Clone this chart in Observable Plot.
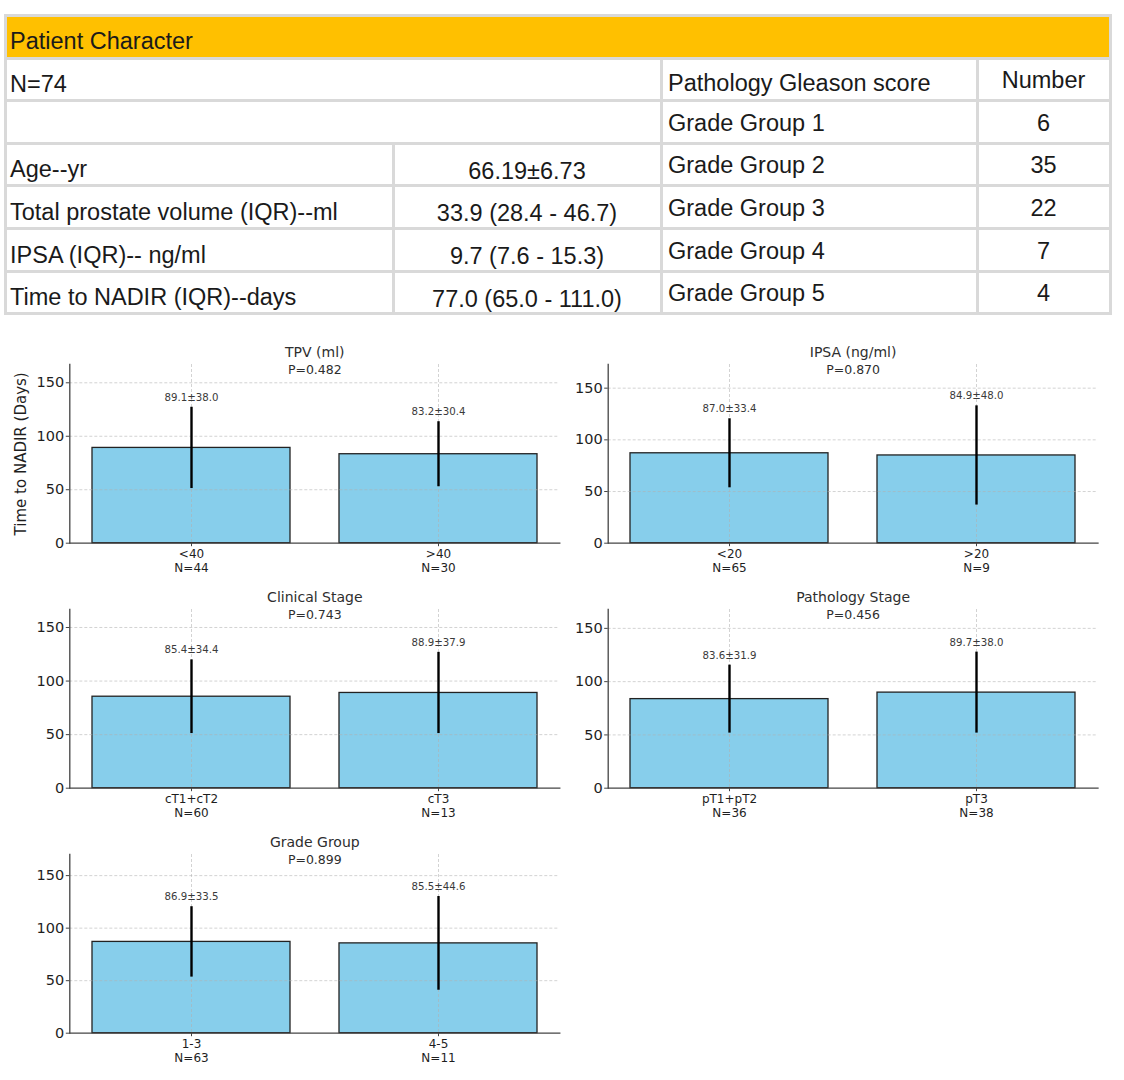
<!DOCTYPE html>
<html>
<head>
<meta charset="utf-8">
<script src="https://cdn.jsdelivr.net/npm/d3@7"></script>
<script src="https://cdn.jsdelivr.net/npm/@observablehq/plot@0.6"></script>
<style>
  html, body { margin: 0; padding: 0; background: #fff; }
  body { width: 1124px; height: 1080px; position: relative; overflow: hidden; font-family: "Liberation Sans", Arial, sans-serif; }
  #tbl { position: absolute; left: 4px; top: 14px; display: grid;
         grid-template-columns: 384.5px 265px 313px 130px;
         grid-template-rows: repeat(7, 39.6px);
         gap: 3px; padding: 3px; background: #d9d9d9; }
  .c { background: #fff; display: flex; align-items: center; font-size: 23.5px; color: #1a1a1a;
       line-height: 1; white-space: nowrap; overflow: hidden; }
  .c span { position: relative; }
  .hdr { background: #FFC000; grid-column: 1 / span 4; padding-left: 3px; }
  .hdr span { top: 5px; }
  .span2 { grid-column: 1 / span 2; }
  .lab { padding-left: 3px; }
  .lab span { top: 5.5px; }
  .val { justify-content: center; }
  .val span { top: 7px; }
  .gl { padding-left: 5.5px; }
  .gl span { top: 1.5px; }
  .gl.first span { top: 4px; }
  .num { justify-content: center; }
  .num span { top: 1.5px; }
  .panel { position: absolute; }
</style>
</head>
<body>
<div id="tbl"></div>
<script>
// ---------- table data ----------
const tableTitle = "Patient Character";
const cohortN = "N=74";
const charLabels = ["Age--yr", "Total prostate volume (IQR)--ml", "IPSA (IQR)-- ng/ml", "Time to NADIR (IQR)--days"];
const charValues = ["66.19±6.73", "33.9 (28.4 - 46.7)", "9.7 (7.6 - 15.3)", "77.0 (65.0 - 111.0)"];
const gleasonHeader = ["Pathology Gleason score", "Number"];
const gradeGroups = ["Grade Group 1", "Grade Group 2", "Grade Group 3", "Grade Group 4", "Grade Group 5"];
const gradeCounts = [6, 35, 22, 7, 4];

// ---------- chart data ----------
const panelTitles = ["TPV (ml)", "IPSA (ng/ml)", "Clinical Stage", "Pathology Stage", "Grade Group"];
const pValues = ["0.482", "0.870", "0.743", "0.456", "0.899"];
const groupLabels = [["<40", ">40"], ["<20", ">20"], ["cT1+cT2", "cT3"], ["pT1+pT2", "pT3"], ["1-3", "4-5"]];
const groupN = [[44, 30], [65, 9], [60, 13], [36, 38], [63, 11]];
const groupMean = [[89.1, 83.2], [87.0, 84.9], [85.4, 88.9], [83.6, 89.7], [86.9, 85.5]];
const groupSD = [[38.0, 30.4], [33.4, 48.0], [34.4, 37.9], [31.9, 38.0], [33.5, 44.6]];
const yTicks = [0, 50, 100, 150];
const yLabel = "Time to NADIR (Days)";

// ---------- build table ----------
const tbl = document.getElementById("tbl");
function cell(cls, text) {
  const d = document.createElement("div");
  d.className = "c " + cls;
  const s = document.createElement("span");
  s.textContent = text;
  d.appendChild(s);
  tbl.appendChild(d);
}
cell("hdr", tableTitle);
cell("span2 lab", cohortN);
cell("gl first", gleasonHeader[0]);
cell("num", gleasonHeader[1]);
cell("span2 lab", "");
cell("gl", gradeGroups[0]);
cell("num", String(gradeCounts[0]));
for (let i = 0; i < charLabels.length; i++) {
  cell("lab", charLabels[i]);
  cell("val", charValues[i]);
  cell("gl", gradeGroups[i + 1]);
  cell("num", String(gradeCounts[i + 1]));
}

// ---------- build charts ----------
const positions = [
  {left: 0, top: 335, side: "L"},
  {left: 562, top: 335, side: "R"},
  {left: 0, top: 580, side: "L"},
  {left: 562, top: 580, side: "R"},
  {left: 0, top: 825, side: "L"}
];

function panel(i) {
  const pos = positions[i];
  const data = groupLabels[i].map((g, j) => ({g, n: groupN[i][j], mean: groupMean[i][j], sd: groupSD[i][j]}));
  const nOf = new Map(data.map(d => [d.g, d.n]));
  const ymax = d3.max(data, d => d.mean + d.sd) + 40;
  const isL = pos.side === "L";
  const gridStyle = {stroke: "#b0b0b0", strokeOpacity: 0.7, strokeDasharray: "3,2", strokeWidth: 0.8};
  const marks = [
    Plot.barY(data, {x: "g", y: "mean", fill: "#87CEEB", stroke: "#222", strokeWidth: 1.3}),
    Plot.gridY(yTicks.filter(t => t > 0), gridStyle),
    Plot.gridX(groupLabels[i], gridStyle),
    Plot.ruleX(data, {x: "g", y1: d => d.mean - d.sd, y2: d => d.mean + d.sd, stroke: "#000", strokeWidth: 2.4}),
    Plot.text(data, {x: "g", y: d => d.mean + d.sd, text: d => `${d.mean.toFixed(1)}±${d.sd.toFixed(1)}`,
      lineAnchor: "bottom", dy: -6.4, fontSize: 10.2, fill: "#3a3a3a"}),
    Plot.axisY({ticks: yTicks, tickSize: 3.5, tickPadding: 2, fontSize: 14.5, fill: "#1e1e1e", stroke: "#444", label: null}),
    Plot.axisX({tickSize: 3.5, tickPadding: 1, fontSize: 12, lineHeight: 1.17, fill: "#1e1e1e", stroke: "#444", label: null,
      tickFormat: g => `${g}\nN=${nOf.get(g)}`}),
    Plot.frame({anchor: "left", stroke: "#444", strokeWidth: 1.3}),
    Plot.frame({anchor: "bottom", stroke: "#444", strokeWidth: 1.3}),
    Plot.text([panelTitles[i]], {text: d => d, frameAnchor: "top", lineAnchor: "middle", dy: -12, fontSize: 14, fill: "#2e2e2e"}),
    Plot.text([`P=${pValues[i]}`], {text: d => d, frameAnchor: "top", lineAnchor: "middle", dy: 5.8, fontSize: 12.5, fill: "#2e2e2e"})
  ];
  if (i === 0) {
    marks.push(Plot.text([yLabel], {text: d => d, frameAnchor: "left", textAnchor: "middle", lineAnchor: "middle",
      rotate: -90, dx: -49, fontSize: 15, fill: "#1e1e1e"}));
  }
  const svg = Plot.plot({
    width: 562, height: 245,
    marginTop: 29, marginBottom: 37.3,
    marginLeft: isL ? 69.3 : 45.7, marginRight: isL ? 2.7 : 26.5,
    style: {fontFamily: "'DejaVu Sans', sans-serif", background: "transparent", overflow: "visible"},
    x: {type: "band", domain: groupLabels[i], paddingInner: 0.2, paddingOuter: 0.09},
    y: {domain: [0, ymax]},
    marks
  });
  const wrap = document.createElement("div");
  wrap.className = "panel";
  wrap.style.left = pos.left + "px";
  wrap.style.top = pos.top + "px";
  wrap.appendChild(svg);
  document.body.appendChild(wrap);
}
for (let i = 0; i < panelTitles.length; i++) panel(i);
</script>
</body>
</html>
